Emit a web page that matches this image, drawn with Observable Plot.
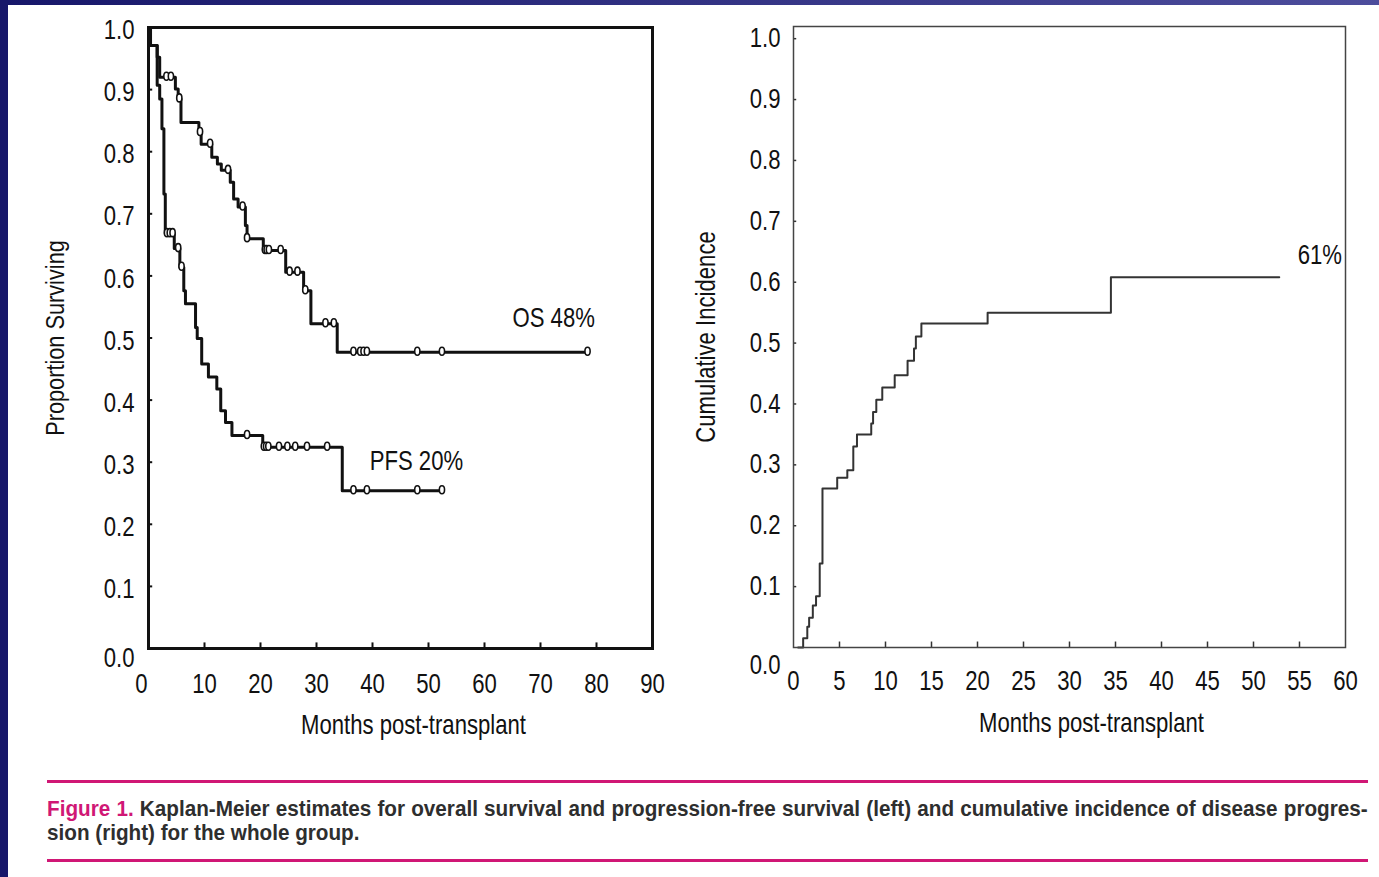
<!DOCTYPE html>
<html><head><meta charset="utf-8">
<script src="https://cdn.jsdelivr.net/npm/d3@7"></script>
<script src="https://cdn.jsdelivr.net/npm/@observablehq/plot@0.6"></script>
<style>
html,body{margin:0;padding:0;background:#fff;}
body{width:1379px;height:877px;position:relative;overflow:hidden;font-family:"Liberation Sans",Arial,sans-serif;}
#topbar{position:absolute;left:0;top:0;width:1379px;height:5px;background:linear-gradient(to right,#17176a,#4d4d9c);}
#leftbar{position:absolute;left:0;top:0;width:8px;height:877px;background:#17176a;}
#left{position:absolute;left:0;top:0;}
#right{position:absolute;left:700px;top:0;}
.hr{position:absolute;left:47px;width:1321px;height:3px;background:#d01775;}
#caption{position:absolute;left:47px;top:797px;width:1405px;font-size:22px;line-height:24px;color:#2e2e2e;font-weight:bold;transform:scaleX(0.94);transform-origin:0 0;}
#caption .l1{display:block;text-align:justify;text-align-last:justify;white-space:nowrap;}
#caption .fig{color:#d01775;}
</style></head>
<body>
<div id="left"></div>
<div id="right"></div>
<div id="topbar"></div>
<div id="leftbar"></div>
<div class="hr" style="top:780px"></div>
<div id="caption"><span class="l1"><span class="fig">Figure 1.</span> Kaplan-Meier estimates for overall survival and progression-free survival (left) and cumulative incidence of disease progres-</span>sion (right) for the whole group.</div>
<div class="hr" style="top:859px"></div>
<script>
// ---------- data ----------
const osTimes = [0, 0.36, 1.55, 2.0, 4.8, 5.3, 5.8, 9.0, 9.4, 11.3, 12.3, 13.0, 14.6, 15.2, 16.0, 17.3, 17.6, 20.5, 24.5, 27.7, 29.0, 33.7, 78.4];
const osSurv  = [1.0, 0.971, 0.952, 0.920, 0.901, 0.885, 0.847, 0.831, 0.812, 0.791, 0.780, 0.770, 0.751, 0.724, 0.711, 0.681, 0.660, 0.641, 0.606, 0.576, 0.523, 0.477, 0.477];
const osCensorT = [3.2, 4.0, 5.5, 9.2, 11.0, 14.2, 16.8, 17.6, 20.8, 21.1, 21.5, 23.6, 25.2, 26.6, 28.0, 31.6, 33.1, 36.6, 37.8, 38.4, 39.0, 48.0, 52.4, 78.4];
const osCensorS = [0.920, 0.920, 0.885, 0.831, 0.812, 0.770, 0.711, 0.660, 0.641, 0.641, 0.641, 0.641, 0.606, 0.606, 0.576, 0.523, 0.523, 0.477, 0.477, 0.477, 0.477, 0.477, 0.477, 0.477];

const pfsTimes = [0, 0.36, 1.55, 2.0, 2.4, 2.75, 3.0, 4.6, 5.6, 6.3, 6.6, 8.4, 8.7, 9.5, 10.7, 12.2, 12.9, 13.75, 14.9, 20.4, 34.6, 52.7];
const pfsSurv  = [1.0, 0.971, 0.907, 0.885, 0.837, 0.732, 0.668, 0.644, 0.614, 0.576, 0.555, 0.517, 0.499, 0.458, 0.437, 0.418, 0.383, 0.364, 0.343, 0.324, 0.254, 0.254];
const pfsCensorT = [3.3, 3.8, 4.3, 5.3, 5.9, 17.6, 20.6, 21.0, 21.4, 23.3, 24.8, 26.2, 28.3, 31.9, 36.6, 39.0, 48.0, 52.4];
const pfsCensorS = [0.668, 0.668, 0.668, 0.644, 0.614, 0.343, 0.324, 0.324, 0.324, 0.324, 0.324, 0.324, 0.324, 0.324, 0.254, 0.254, 0.254, 0.254];

const ciTimes = [0.5, 1.05, 1.5, 1.7, 2.1, 2.45, 2.85, 3.15, 4.75, 5.85, 6.5, 6.9, 8.45, 8.65, 9.0, 9.65, 11.0, 12.4, 13.1, 13.3, 13.9, 21.1, 34.5, 52.8];
const ciVals  = [0, 0.015, 0.034, 0.049, 0.069, 0.084, 0.138, 0.261, 0.279, 0.291, 0.330, 0.350, 0.368, 0.387, 0.407, 0.427, 0.447, 0.471, 0.491, 0.511, 0.532, 0.550, 0.608, 0.608];

const leftXTicks = [0, 10, 20, 30, 40, 50, 60, 70, 80, 90];
const rightXTicks = [0, 5, 10, 15, 20, 25, 30, 35, 40, 45, 50, 55, 60];
const yTicks = [0, 0.1, 0.2, 0.3, 0.4, 0.5, 0.6, 0.7, 0.8, 0.9, 1.0];
const leftLabels = [{t: "OS 48%", x: 65, y: 0.531}, {t: "PFS 20%", x: 39.5, y: 0.301}];
const rightLabels = [{t: "61%", x: 54.8, y: 0.644}];
const xTitle = "Months post-transplant";
const leftYTitle = "Proportion Surviving";
const rightYTitle = "Cumulative Incidence";

// ---------- helpers ----------
const ff = '"Liberation Sans",Arial,sans-serif';
const zip = (xs, ys) => xs.map((x, i) => ({x, y: ys[i]}));
const ellipse = {draw(ctx) {
  const rx = 2.6, ry = 4, k = 0.5523;
  ctx.moveTo(rx, 0);
  ctx.bezierCurveTo(rx, ry * k, rx * k, ry, 0, ry);
  ctx.bezierCurveTo(-rx * k, ry, -rx, ry * k, -rx, 0);
  ctx.bezierCurveTo(-rx, -ry * k, -rx * k, -ry, 0, -ry);
  ctx.bezierCurveTo(rx * k, -ry, rx, -ry * k, rx, 0);
  ctx.closePath();
}};
const f1 = d3.format(".1f");
// narrow the text (the original uses a condensed face)
function condense(svg) {
  svg.querySelectorAll("text").forEach(t => {
    const tr = t.getAttribute("transform");
    if (tr) t.setAttribute("transform", tr + " scale(0.82,1)");
  });
  return svg;
}

// ---------- left plot ----------
const leftPlot = Plot.plot({
  width: 700, height: 760,
  marginLeft: 148, marginRight: 48, marginTop: 27, marginBottom: 112,
  style: {fontFamily: ff, fontSize: "27px", background: "transparent", color: "#111", overflow: "visible"},
  x: {domain: [0, 90]},
  y: {domain: [0, 1]},
  marks: [
    Plot.axisX(leftXTicks.filter(d => d > 0), {tickSize: 0, tickPadding: 25, tickFormat: d => String(d), label: null}),
    Plot.axisX([0], {tickSize: 0, tickPadding: 25, dx: -7, tickFormat: d => String(d), label: null}),
    Plot.axisY(yTicks.filter(d => d > 0), {tickSize: 0, tickPadding: 14, dy: 3, tickFormat: f1, label: null}),
    Plot.axisY([0], {tickSize: 0, tickPadding: 14, dy: 10, tickFormat: f1, label: null}),
    Plot.ruleX(leftXTicks.slice(1, -1), {x: d => d, y1: 0, y2: 0.009, stroke: "#111", strokeWidth: 2}),
    Plot.ruleY(yTicks.slice(1, -1), {y: d => d, x1: 0, x2: 0.75, stroke: "#111", strokeWidth: 2}),
    Plot.line(zip(osTimes, osSurv), {x: "x", y: "y", curve: "step-after", stroke: "#111", strokeWidth: 3}),
    Plot.line(zip(pfsTimes, pfsSurv), {x: "x", y: "y", curve: "step-after", stroke: "#111", strokeWidth: 3}),
    Plot.dot(zip(osCensorT, osCensorS), {x: "x", y: "y", symbol: ellipse, r: 3, fill: "white", stroke: "#111", strokeWidth: 1.6, dy: -1}),
    Plot.dot(zip(pfsCensorT, pfsCensorS), {x: "x", y: "y", symbol: ellipse, r: 3, fill: "white", stroke: "#111", strokeWidth: 1.6, dy: -1}),
    Plot.text(leftLabels, {x: "x", y: "y", text: "t", textAnchor: "start", fontSize: 27, fill: "#111"}),
    Plot.text([xTitle], {frameAnchor: "bottom", dx: 13, dy: 85, fontSize: 27, fill: "#111"}),
    Plot.text([leftYTitle], {frameAnchor: "left", textAnchor: "middle", dx: -93, rotate: -90, fontSize: 26.5, fill: "#111"}),
    Plot.frame({stroke: "#111", strokeWidth: 3})
  ]
});
document.getElementById("left").appendChild(condense(leftPlot));

// ---------- right plot ----------
const rightPlot = Plot.plot({
  width: 679, height: 760,
  marginLeft: 93, marginRight: 34, marginTop: 26, marginBottom: 113,
  style: {fontFamily: ff, fontSize: "27px", background: "transparent", color: "#111", overflow: "visible"},
  x: {domain: [0, 60]},
  y: {domain: [0, 1.02]},
  marks: [
    Plot.axisX(rightXTicks, {tickSize: 0, tickPadding: 23, tickFormat: d => String(d), label: null}),
    Plot.axisY(yTicks.filter(d => d > 0), {tickSize: 0, tickPadding: 13, dy: 0, tickFormat: f1, label: null}),
    Plot.axisY([0], {tickSize: 0, tickPadding: 13, dy: 18, tickFormat: f1, label: null}),
    Plot.ruleX(rightXTicks.slice(1, -1), {x: d => d, y1: 0, y2: 0.009, stroke: "#333", strokeWidth: 1.5}),
    Plot.ruleY(yTicks.slice(1), {y: d => d, x1: 0, x2: 0.35, stroke: "#333", strokeWidth: 1.5}),
    Plot.line(zip(ciTimes, ciVals), {x: "x", y: "y", curve: "step-after", stroke: "#333", strokeWidth: 2}),
    Plot.text(rightLabels, {x: "x", y: "y", text: "t", textAnchor: "start", fontSize: 27, fill: "#111"}),
    Plot.text([xTitle], {frameAnchor: "bottom", dx: 22, dy: 84, fontSize: 27, fill: "#111"}),
    Plot.text([rightYTitle], {frameAnchor: "left", textAnchor: "middle", dx: -87, rotate: -90, fontSize: 27, fill: "#111"}),
    Plot.frame({stroke: "#444", strokeWidth: 1.5})
  ]
});
document.getElementById("right").appendChild(condense(rightPlot));
</script>
</body></html>
